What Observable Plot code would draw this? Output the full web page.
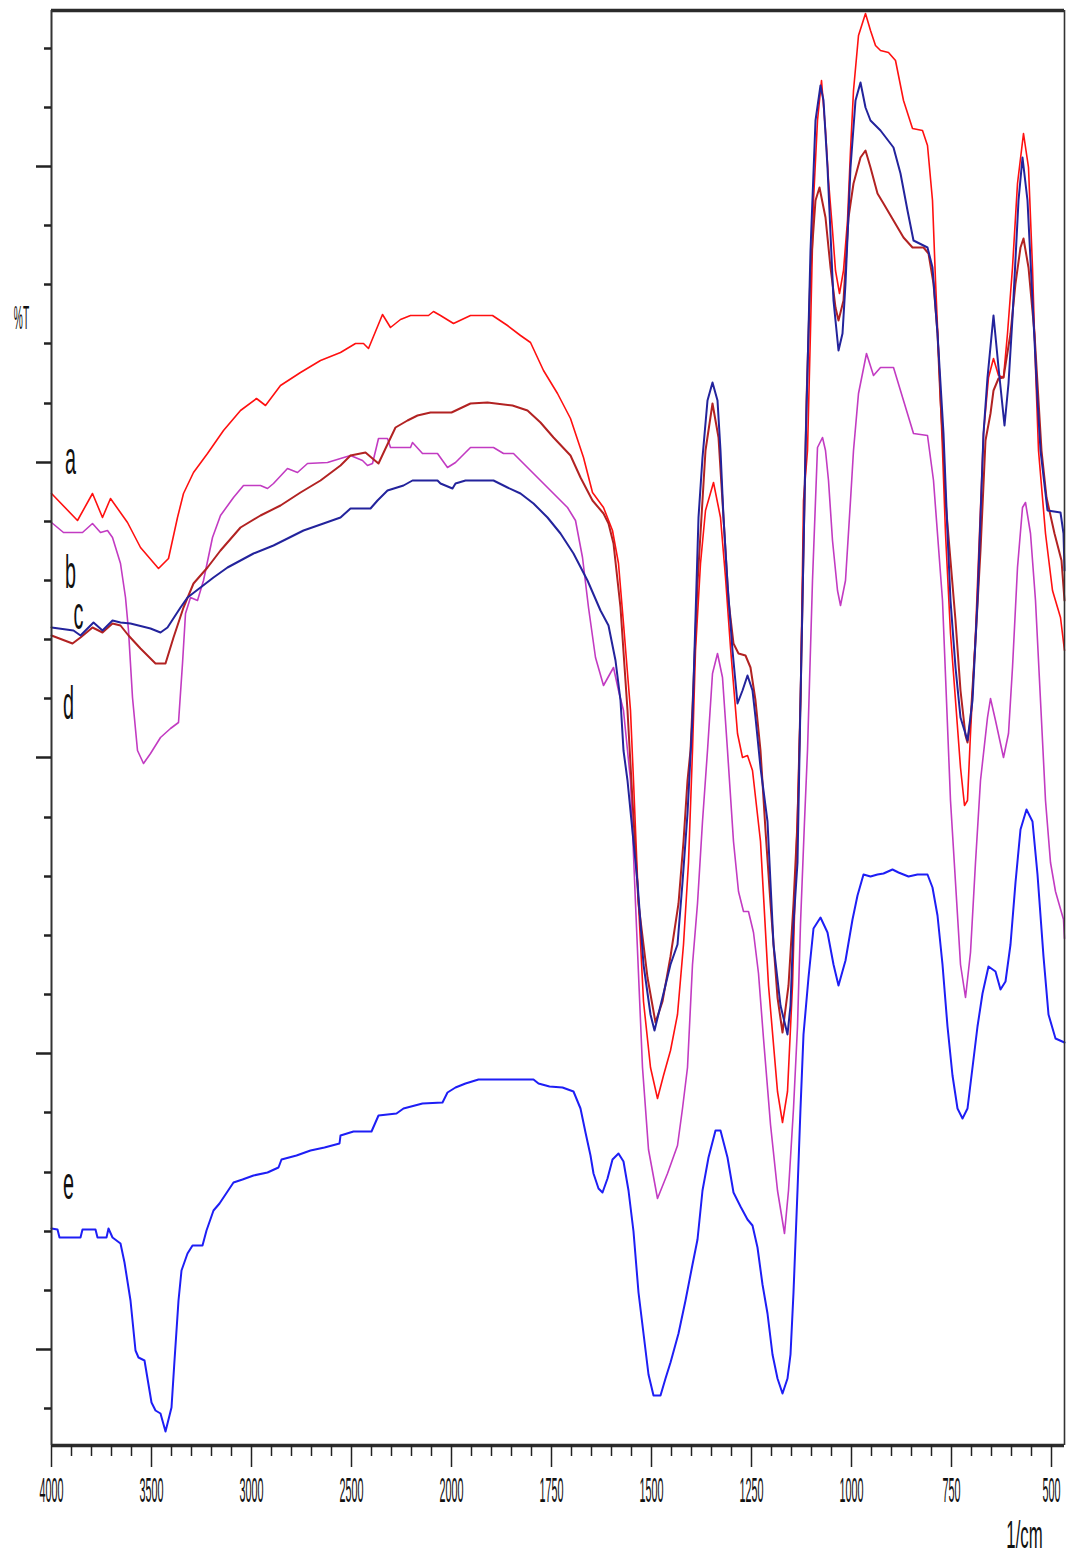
<!DOCTYPE html>
<html>
<head>
<meta charset="utf-8">
<script src="https://cdn.jsdelivr.net/npm/d3@7"></script>
<script src="https://cdn.jsdelivr.net/npm/@observablehq/plot@0.6"></script>
<style>
  html, body { margin: 0; padding: 0; background: #fff; }
  #chart svg { display: block; }
</style>
</head>
<body>
<div id="chart"></div>
<script>
// ---- scales / ticks (wavenumber in 1/cm, transmittance in arbitrary %T units) ----
const xDomain = [4000, 2000, 467.5];
const yDomain = [0, 143.5];
const xMajorTicks = [4000, 3500, 3000, 2500, 2000, 1750, 1500, 1250, 1000, 750, 500];
const xMinorTicks = [3900, 3800, 3700, 3600, 3400, 3300, 3200, 3100, 2900, 2800, 2700, 2600,
  2400, 2300, 2200, 2100, 1950, 1900, 1850, 1800, 1700, 1650, 1600, 1550, 1450, 1400, 1350, 1300,
  1200, 1150, 1100, 1050, 950, 900, 850, 800, 700, 650, 600, 550];
const yMajorTicks = [9.6, 39.2, 68.8, 98.3, 127.9];
const yMinorTicks = [3.7, 15.5, 21.4, 27.3, 33.3, 45.1, 51.0, 56.9, 62.8, 74.7, 80.6, 86.5, 92.4,
  104.2, 110.2, 116.1, 122.0, 133.8, 139.7];

// ---- curve labels ----
const labelNames = ["a", "b", "c", "d", "e"];
const labelWn = [3905, 3905, 3865, 3915, 3915];
const labelT = [97.2, 85.8, 81.7, 72.7, 24.7];

// ---- spectra: [wavenumber, %T] ----
const seriesA = [[4000,95.2],[3870,92.5],[3795,95.2],[3745,92.8],[3705,94.7],[3620,92.3],[3555,89.8],[3465,87.7],[3415,88.7],[3370,92.8],[3340,95.2],[3290,97.3],[3220,99.2],[3140,101.5],[3055,103.5],[2975,104.7],[2930,104.0],[2855,106.0],[2755,107.3],[2655,108.5],[2555,109.3],[2480,110.2],[2440,110.2],[2415,109.7],[2345,113.1],[2305,111.8],[2255,112.6],[2205,113.0],[2115,113.0],[2090,113.4],[2055,113.0],[1995,112.2],[1952.5,113.0],[1897.5,113.0],[1860,112.0],[1827.5,111.0],[1802.5,110.3],[1770,107.5],[1735,105.2],[1702.5,102.7],[1670,98.8],[1647.5,95.3],[1620,93.8],[1597.5,91.5],[1582.5,88.2],[1570,82.2],[1552.5,73.5],[1545,66.5],[1532.5,54.2],[1520,44.4],[1502.5,37.8],[1485,34.7],[1470,37.0],[1452.5,39.5],[1435,43.1],[1420,50.1],[1407.5,58.3],[1397.5,69.5],[1390,79.5],[1377.5,88.2],[1365,93.5],[1345,96.3],[1327.5,92.8],[1315,86.8],[1302.5,79.8],[1285,71.2],[1272.5,68.8],[1260,69.0],[1247.5,67.5],[1227.5,60.4],[1207.5,46.0],[1185,35.4],[1172.5,32.3],[1160,35.4],[1147.5,46.0],[1140,56.7],[1132.5,66.5],[1127.5,74.5],[1120,94.5],[1110,99.5],[1102.5,111.5],[1095,124.5],[1085,132.5],[1075,136.5],[1065,131.5],[1057.5,126.5],[1047.5,121.5],[1040,117.5],[1030,115.2],[1020,117.5],[1010,122.5],[1002.5,129.5],[995,135.5],[982.5,141.0],[965,143.2],[952.5,141.5],[940,140.0],[927.5,139.5],[907.5,139.3],[890,138.5],[870,134.5],[847.5,131.7],[822.5,131.5],[810,130.0],[797.5,124.5],[790,116.5],[782.5,109.5],[772.5,99.5],[765,91.2],[752.5,81.2],[740,74.5],[727.5,67.8],[717.5,64.0],[710,64.5],[702.5,71.2],[690,81.2],[680,91.2],[670,101.2],[657.5,106.8],[645,108.7],[632.5,107.0],[620,106.8],[610,111.2],[597.5,117.8],[585,126.2],[570,131.2],[557.5,127.8],[547.5,117.8],[540,107.8],[532.5,99.5],[515,91.2],[497.5,85.5],[477.5,82.8],[467.5,79.5]];

const seriesB = [[4000,92.3],[3940,91.3],[3845,91.3],[3795,92.2],[3755,91.3],[3720,91.5],[3695,90.8],[3655,88.2],[3630,84.8],[3615,81.5],[3595,74.8],[3570,69.5],[3540,68.2],[3505,69.2],[3455,70.8],[3405,71.7],[3365,72.3],[3345,78.2],[3330,83.2],[3305,84.8],[3270,84.5],[3240,86.5],[3195,90.8],[3155,93.0],[3090,94.8],[3040,96.0],[2955,96.0],[2920,95.7],[2890,96.2],[2820,97.7],[2770,97.3],[2720,98.2],[2620,98.3],[2555,98.7],[2505,99.0],[2445,98.5],[2420,98.0],[2395,98.2],[2365,100.7],[2320,100.7],[2305,99.8],[2205,99.8],[2195,100.3],[2145,99.2],[2070,99.2],[2020,97.8],[1990,98.3],[1952.5,99.8],[1895,99.8],[1870,99.2],[1845,99.2],[1810,97.8],[1777.5,96.5],[1745,95.2],[1710,93.8],[1690,92.5],[1672.5,88.8],[1657.5,83.8],[1640,78.8],[1620,76.0],[1595,77.8],[1582.5,75.5],[1570,73.5],[1560,69.5],[1552.5,66.5],[1540,54.2],[1522.5,37.8],[1507.5,29.6],[1485,24.7],[1460,27.2],[1435,30.0],[1422.5,33.7],[1410,37.8],[1397.5,48.1],[1385,54.2],[1372.5,62.4],[1360,69.5],[1347.5,77.2],[1335,79.2],[1322.5,76.8],[1310,69.5],[1295,60.4],[1282.5,55.4],[1270,53.4],[1257.5,53.4],[1245,51.3],[1232.5,47.2],[1220,40.7],[1202.5,32.1],[1185,25.5],[1167.5,21.2],[1157.5,25.5],[1145,33.7],[1135,41.9],[1127.5,52.2],[1117.5,62.4],[1110,69.5],[1097.5,86.5],[1085,99.8],[1072.5,100.8],[1065,99.5],[1057.5,96.5],[1047.5,90.5],[1035,85.5],[1027.5,84.0],[1015,86.5],[1002.5,94.5],[995,99.5],[982.5,105.2],[962.5,109.2],[945,107.0],[927.5,107.8],[895,107.8],[870,104.5],[845,101.2],[810,101.0],[795,96.5],[772.5,84.5],[752.5,64.5],[740,56.3],[727.5,48.1],[715,44.8],[702.5,49.3],[690,58.3],[677.5,66.5],[660,72.8],[652.5,74.7],[640,72.5],[620,68.8],[607.5,71.2],[597.5,77.8],[585,87.8],[572.5,93.8],[565,94.3],[552.5,91.2],[540,84.5],[527.5,74.5],[515,64.5],[502.5,58.3],[490,55.4],[470,52.6],[467.5,50.7]];

const seriesC = [[4000,81.8],[3890,81.5],[3855,81.0],[3790,82.3],[3745,81.5],[3695,82.5],[3655,82.3],[3605,82.2],[3505,81.7],[3455,81.3],[3420,81.8],[3355,83.8],[3320,84.8],[3255,85.8],[3190,86.8],[3120,87.8],[3055,88.5],[2990,89.2],[2890,90.0],[2820,90.7],[2740,91.5],[2640,92.2],[2555,92.8],[2505,93.7],[2405,93.7],[2370,94.5],[2320,95.5],[2240,96.0],[2195,96.5],[2070,96.5],[2055,96.2],[1997.5,95.7],[1990,96.2],[1965,96.5],[1895,96.5],[1860,95.8],[1827.5,95.2],[1795,94.2],[1760,92.8],[1727.5,91.2],[1695,89.2],[1660,86.5],[1627.5,83.5],[1607.5,82.0],[1590,78.5],[1577.5,74.5],[1570,69.5],[1560,66.5],[1535,56.3],[1520,48.1],[1502.5,43.1],[1492.5,41.5],[1472.5,44.8],[1452.5,48.1],[1435,50.1],[1422.5,56.3],[1410,63.2],[1397.5,72.8],[1390,82.8],[1382.5,92.8],[1372.5,98.8],[1360,104.5],[1347.5,106.3],[1335,104.5],[1327.5,99.5],[1320,92.8],[1310,86.2],[1297.5,79.5],[1285,74.2],[1272.5,75.5],[1260,77.0],[1247.5,75.5],[1240,72.8],[1227.5,67.8],[1210,62.4],[1195,50.1],[1177.5,44.0],[1160,41.1],[1152.5,44.0],[1145,52.2],[1135,58.3],[1127.5,74.5],[1115,99.5],[1102.5,119.5],[1090,132.5],[1077.5,136.0],[1070,134.5],[1060,127.8],[1052.5,121.2],[1045,114.5],[1032.5,109.5],[1022.5,111.2],[1015,116.2],[1002.5,127.8],[990,134.5],[977.5,136.3],[965,133.8],[952.5,132.5],[927.5,131.5],[895,129.8],[877.5,127.2],[860,123.5],[845,120.5],[810,119.8],[797.5,117.8],[785,111.2],[770,101.2],[760,91.2],[752.5,84.5],[740,77.8],[727.5,72.8],[710,70.5],[697.5,74.5],[685,84.5],[677.5,92.8],[670,101.2],[660,106.8],[645,113.0],[632.5,107.8],[617.5,102.0],[607.5,106.2],[597.5,112.8],[582.5,124.5],[572.5,128.8],[560,124.5],[547.5,114.5],[535,104.5],[527.5,99.5],[510,93.5],[477.5,93.3],[470,91.2],[467.5,87.5]];

const seriesD = [[4000,81.0],[3895,80.2],[3855,80.8],[3795,81.8],[3745,81.3],[3695,82.2],[3655,82.0],[3615,81.0],[3555,79.7],[3480,78.2],[3430,78.2],[3390,80.8],[3340,83.8],[3290,86.2],[3220,87.8],[3155,89.5],[3055,91.8],[2955,93.0],[2855,94.0],[2755,95.3],[2655,96.5],[2555,98.0],[2505,99.0],[2430,99.3],[2395,98.7],[2365,98.2],[2330,99.7],[2280,101.8],[2220,102.5],[2170,103.0],[2105,103.3],[2000,103.3],[1952.5,104.2],[1910,104.3],[1847.5,104.0],[1810,103.5],[1777.5,102.3],[1745,100.8],[1702.5,99.0],[1677.5,96.8],[1647.5,94.5],[1620,93.2],[1607.5,92.2],[1595,90.2],[1577.5,83.8],[1560,73.5],[1547.5,64.5],[1532.5,54.2],[1510,46.8],[1490,42.3],[1472.5,44.4],[1452.5,48.9],[1432.5,54.2],[1420,60.4],[1410,66.5],[1402.5,69.5],[1395,76.2],[1385,86.2],[1377.5,91.2],[1365,99.5],[1347.5,104.2],[1332.5,100.8],[1320,92.8],[1307.5,84.5],[1295,80.2],[1282.5,79.2],[1265,79.0],[1252.5,77.8],[1240,74.5],[1227.5,69.5],[1215,61.5],[1202.5,54.2],[1185,44.8],[1172.5,41.3],[1157.5,46.0],[1145,54.2],[1135,62.4],[1127.5,74.5],[1120,89.5],[1112.5,104.5],[1102.5,117.5],[1090,124.5],[1080,125.8],[1065,122.8],[1052.5,117.8],[1040,113.8],[1032.5,112.5],[1020,114.5],[1007.5,122.8],[995,126.2],[977.5,128.8],[965,129.5],[952.5,127.8],[935,125.2],[920,124.2],[895,122.5],[870,120.8],[847.5,119.8],[820,119.8],[807.5,119.2],[795,116.2],[785,111.2],[777.5,104.5],[770,99.5],[765,94.5],[752.5,88.5],[740,82.5],[727.5,75.5],[715,71.0],[710,70.3],[702.5,72.5],[690,80.5],[677.5,89.5],[665,100.5],[652.5,103.2],[645,105.5],[632.5,106.7],[620,106.8],[602.5,111.2],[590,116.2],[577.5,119.8],[570,120.7],[557.5,117.8],[542.5,111.2],[532.5,104.5],[525,99.5],[512.5,94.8],[492.5,91.2],[475,88.5],[467.5,84.5]];

const seriesE = [[4000,21.7],[3970,21.6],[3960,20.8],[3855,20.8],[3845,21.6],[3780,21.6],[3770,20.8],[3725,20.8],[3715,21.7],[3695,20.8],[3655,20.2],[3635,18.3],[3605,14.5],[3580,9.5],[3565,8.8],[3535,8.5],[3500,4.3],[3480,3.5],[3455,3.2],[3430,1.4],[3400,3.8],[3385,8.5],[3365,14.5],[3350,17.5],[3320,19.2],[3295,20.0],[3245,20.0],[3225,21.5],[3190,23.5],[3160,24.2],[3090,26.3],[3045,26.6],[2990,27.0],[2920,27.3],[2865,27.8],[2850,28.6],[2775,29.0],[2705,29.5],[2635,29.8],[2560,30.2],[2555,31.0],[2490,31.4],[2400,31.4],[2365,33.0],[2275,33.2],[2240,33.7],[2145,34.2],[2045,34.3],[2020,35.3],[1990,35.8],[1965,36.2],[1932.5,36.6],[1795,36.6],[1782.5,36.2],[1755,35.9],[1722.5,35.8],[1695,35.4],[1677.5,33.7],[1665,31.3],[1652.5,29.0],[1645,27.2],[1632.5,25.7],[1622.5,25.3],[1610,26.7],[1597.5,28.6],[1582.5,29.2],[1570,28.4],[1557.5,25.5],[1545,21.4],[1532.5,15.3],[1520,11.2],[1507.5,7.1],[1495,5.0],[1477.5,5.0],[1465,6.7],[1452.5,8.3],[1432.5,11.2],[1415,14.5],[1397.5,18.1],[1385,20.6],[1372.5,25.5],[1357.5,28.8],[1340,31.5],[1327.5,31.5],[1310,28.8],[1295,25.3],[1277.5,23.9],[1260,22.6],[1247.5,22.0],[1235,19.8],[1222.5,16.1],[1210,13.2],[1197.5,9.1],[1185,6.7],[1172.5,5.2],[1160,6.7],[1152.5,9.1],[1145,15.3],[1135,25.5],[1127.5,33.7],[1120,41.1],[1107.5,46.8],[1095,51.7],[1077.5,52.8],[1060,51.3],[1045,48.1],[1032.5,46.0],[1015,48.5],[997.5,52.6],[985,55.0],[970,57.1],[952.5,56.9],[935,57.1],[920,57.2],[897.5,57.6],[882.5,57.3],[857.5,56.9],[835,57.1],[810,57.1],[797.5,55.8],[785,53.0],[772.5,48.1],[760,41.9],[747.5,37.0],[735,33.7],[722.5,32.7],[710,33.7],[697.5,37.8],[685,41.9],[672.5,45.2],[657.5,47.9],[640,47.4],[627.5,45.6],[615,46.4],[602.5,50.1],[590,56.3],[577.5,61.6],[562.5,63.6],[547.5,62.4],[535,57.1],[520,48.9],[507.5,43.1],[490,40.7],[467.5,40.3]];

const curveLabels = labelNames.map((name, i) => ({name, wn: labelWn[i], t: labelT[i]}));

const lineOpts = (stroke, w) => ({x: d => d[0], y: d => d[1], stroke, strokeWidth: w, strokeLinejoin: "round"});

const chart = Plot.plot({
  width: 1070,
  height: 1561,
  marginLeft: 51,
  marginRight: 6,
  marginTop: 10,
  marginBottom: 116,
  style: {fontFamily: "'Liberation Sans', Arial, sans-serif", background: "#fff", color: "#111"},
  x: {type: "linear", domain: xDomain, range: [51, 451, 1064]},
  y: {type: "linear", domain: yDomain, range: [1445, 10]},
  marks: [
    Plot.line(seriesE, lineOpts("#1e1ef5", 2)),
    Plot.line(seriesB, lineOpts("#c23bc2", 1.6)),
    Plot.line(seriesA, lineOpts("#ff1010", 1.6)),
    Plot.line(seriesD, lineOpts("#b22222", 2)),
    Plot.line(seriesC, lineOpts("#23239c", 2)),
    // frame
    Plot.ruleY([yDomain[1]], {stroke: "#2b2b2b", strokeWidth: 3.5}),
    Plot.ruleY([yDomain[0]], {stroke: "#2b2b2b", strokeWidth: 3.5}),
    Plot.ruleX([xDomain[0]], {stroke: "#333", strokeWidth: 2}),
    Plot.ruleX([xDomain[2]], {stroke: "#333", strokeWidth: 1.6}),
    // axes
    Plot.axisX(xMinorTicks, {anchor: "bottom", tickSize: 11, tickFormat: () => "", stroke: "#222", strokeWidth: 1.5, label: null}),
    Plot.axisX(xMajorTicks, {anchor: "bottom", tickSize: 22, tickPadding: 9, tickFormat: d => String(d), fontSize: 36, stroke: "#222", strokeWidth: 1.5, label: null}),
    Plot.axisY(yMinorTicks, {anchor: "left", tickSize: 7, tickFormat: () => "", stroke: "#222", strokeWidth: 2.5, label: null}),
    Plot.axisY(yMajorTicks, {anchor: "left", tickSize: 15, tickFormat: () => "", stroke: "#222", strokeWidth: 2.5, label: null}),
    // texts
    Plot.text(curveLabels, {x: "wn", y: "t", text: "name", fontSize: 46, textAnchor: "middle", lineAnchor: "bottom", fill: "#111"}),
    Plot.text(["%T"], {text: d => d, frameAnchor: "top-left", dx: -30, dy: 308, fontSize: 34, textAnchor: "middle", lineAnchor: "middle", fill: "#111"}),
    Plot.text(["1/cm"], {text: d => d, frameAnchor: "bottom-right", dx: -40, dy: 75, fontSize: 39, textAnchor: "middle", lineAnchor: "top", fill: "#111"})
  ]
});

// the original's lettering is tall and narrow: squeeze glyphs horizontally about their anchors
chart.querySelectorAll("text").forEach(t => {
  const s = t.textContent.trim();
  const k = (s.length === 1 || s === "1/cm") ? 0.43 : 0.3;
  const tr = t.getAttribute("transform") || "";
  t.setAttribute("transform", (tr + ` scale(${k},1)`).trim());
});

document.getElementById("chart").appendChild(chart);
</script>
</body>
</html>
